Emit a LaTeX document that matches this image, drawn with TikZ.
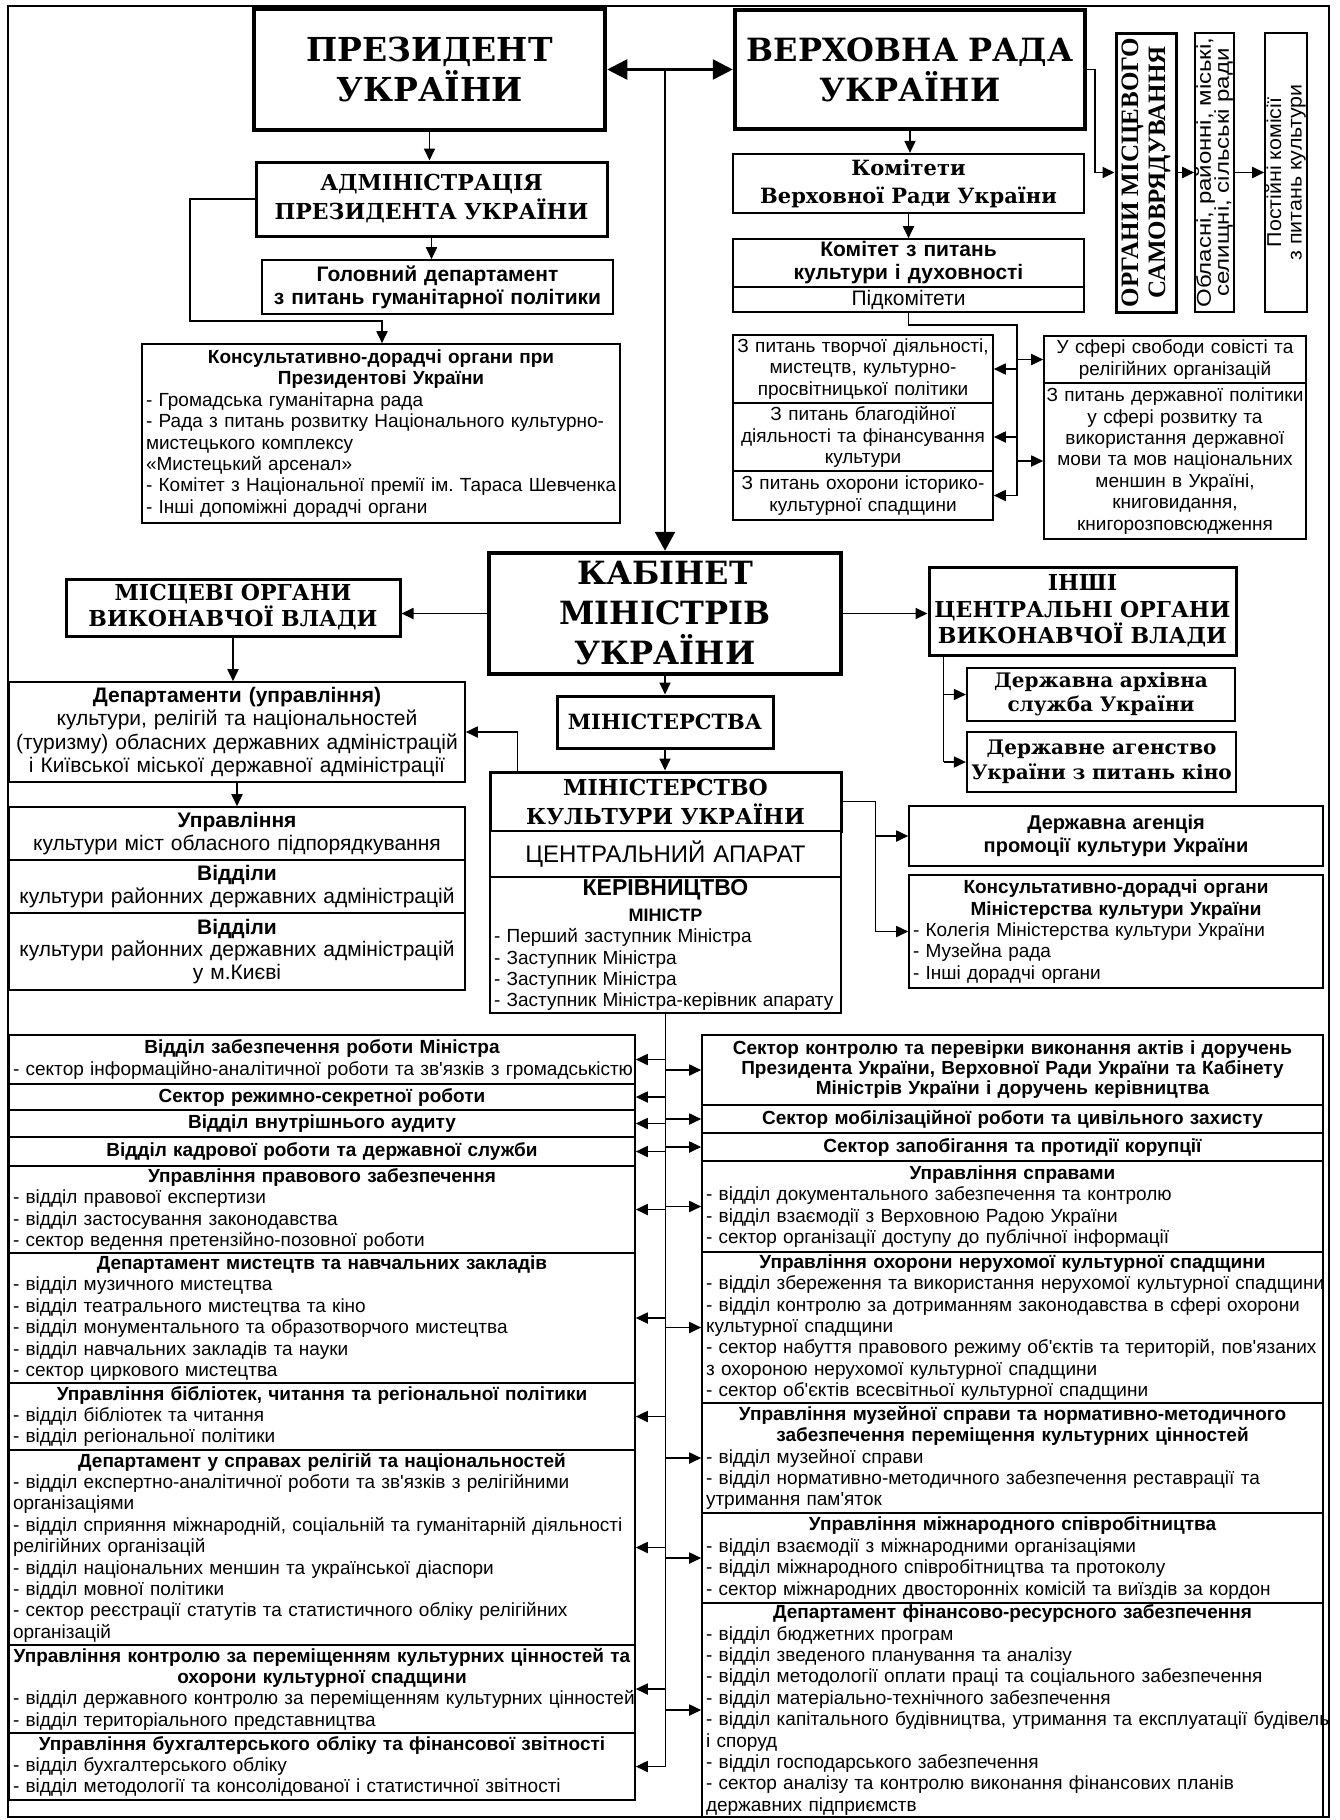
\documentclass[tikz,border=0pt]{standalone}
\usepackage{fontspec}
\setmainfont{Liberation Sans}
\newfontfamily\srf{DejaVu Serif}
\newfontfamily\lsrf{Liberation Serif}
\newfontfamily\sfwa{Liberation Sans}[FakeStretch=1.2]
\newfontfamily\sfwb{Liberation Sans}[FakeStretch=1.07]
\usetikzlibrary{arrows.meta}
\newcommand\fsz[2]{\fontsize{#1}{#2}\selectfont\lineskiplimit=-30pt\frenchspacing\relax}
\newcommand\Cx[1]{\leavevmode\hbox to\hsize{\hss#1\hss}\par}
\newcommand\Lx[1]{\leavevmode\hbox to\hsize{#1\hss}\par}
\newcommand\BX[7][]{%
  \pgfmathsetmacro\bxw{#5-#3}%
  \pgfmathsetmacro\bxh{#6-#4}%
  \pgfmathsetmacro\bxcx{(#3+#5)/2}%
  \pgfmathsetmacro\bxcy{(#4+#6)/2}%
  \pgfmathsetmacro\bxtw{#5-#3-8}%
  \node[box,minimum width=\bxw pt,minimum height=\bxh pt,text width=\bxtw pt,#1] (#2) at (\bxcx,\bxcy) {#7};}
\begin{document}
\begin{tikzpicture}[x=1pt,y=-1pt,
  box/.style={draw,line width=1.6pt,inner xsep=4pt,inner ysep=0pt,fill=white,font=\fsz{19}{21.4}},
  md/.style={line width=2.2pt},
  tk/.style={line width=3pt},
  vtk/.style={line width=4.5pt},
  line/.style={line width=1.8pt},
  arr/.style={line width=1.8pt,-{Triangle[length=12pt,width=11pt]}},
  bigarr/.style={line width=2.6pt,-{Triangle[length=19pt,width=20pt]}},
  bigarrs/.style={line width=2.6pt,{Triangle[length=20pt,width=20pt]}-{Triangle[length=20pt,width=20pt]}}]
\useasboundingbox (0,0) rectangle (1340,1820);
\draw[line width=1.4pt] (8,6) rectangle (1329,1817);

% ---------- top ----------
\BX[vtk,font=\srf\bfseries\fsz{33}{40}]{pres}{254}{9}{605}{130}{\Cx{ПРЕЗИДЕНТ}\Cx{УКРАЇНИ}}
\BX[vtk,font=\srf\bfseries\fsz{32}{40}]{vr}{735}{10}{1085}{129}{\Cx{ВЕРХОВНА РАДА}\Cx{УКРАЇНИ}}
\BX[tk,font=\srf\bfseries\fsz{22}{29}]{adm}{256}{162}{607}{236}{\Cx{АДМІНІСТРАЦІЯ}\Cx{ПРЕЗИДЕНТА УКРАЇНИ}}
\BX[font=\bfseries\fsz{21}{23}]{hdp}{262}{260}{613}{314}{\Cx{Головний департамент}\Cx{з питань гуманітарної політики}}
\BX{kons}{142}{344}{620}{523}{\Cx{\bfseries Консультативно-дорадчі органи при}\Cx{\bfseries Президентові України}\Lx{- Громадська гуманітарна рада}\Lx{- Рада з питань розвитку Національного культурно-}\Lx{мистецького комплексу}\Lx{«Мистецький арсенал»}\Lx{- Комітет з Національної премії ім. Тараса Шевченка}\Lx{- Інші допоміжні дорадчі органи}}

\BX[md,font=\srf\bfseries\fsz{21}{28}]{kom}{733}{154}{1084}{213}{\Cx{Комітети}\Cx{Верховної Ради України}}
\BX[font=\bfseries\fsz{21}{23}]{kkd}{733}{239}{1084}{287}{\Cx{Комітет з питань}\Cx{культури і духовності}}
\BX[font=\fsz{21}{23}]{pidk}{733}{287}{1084}{312}{\Cx{Підкомітети}}
\BX[font=\fsz{19}{21.2}]{s1}{733}{335}{993}{403}{\Cx{З питань творчої діяльності,}\Cx{мистецтв, культурно-}\Cx{просвітницької політики}}
\BX[font=\fsz{19}{21.2}]{s2}{733}{403}{993}{471}{\Cx{З питань благодійної}\Cx{діяльності та фінансування}\Cx{культури}}
\BX[font=\fsz{19}{21.2}]{s3}{733}{471}{993}{520}{\Cx{З питань охорони історико-}\Cx{культурної спадщини}}
\BX[font=\fsz{19}{21.2}]{s4}{1044}{336}{1306}{383}{\Cx{У сфері свободи совісті та}\Cx{релігійних організацій}}
\BX[font=\fsz{19}{21.4}]{s5}{1044}{383}{1306}{539}{\Cx{З питань державної політики}\Cx{у сфері розвитку та}\Cx{використання державної}\Cx{мови та мов національних}\Cx{меншин в Україні,}\Cx{книговидання,}\Cx{книгорозповсюдження}}

\node[box,tk,rotate=90,minimum width=279pt,minimum height=60pt,align=center,font=\lsrf\bfseries\fsz{25}{27}] (oms) at (1146,172.5) {ОРГАНИ МІСЦЕВОГО\\САМОВРЯДУВАННЯ};
\node[box,rotate=90,minimum width=279pt,minimum height=39pt,align=center,font=\sfwa\fsz{20}{18}] (obl) at (1214.5,172.5) {Обласні, районні, міські,\\селищні, сільські ради};
\node[box,rotate=90,minimum width=279pt,minimum height=42pt,align=center,font=\sfwb\fsz{20}{20.5}] (post) at (1286,172.5) {Постійні комісії\\з питань культури};

% ---------- middle ----------
\BX[vtk,font=\srf\bfseries\fsz{32}{40}]{kab}{489}{553}{841}{674}{\Cx{КАБІНЕТ}\Cx{МІНІСТРІВ}\Cx{УКРАЇНИ}}
\BX[tk,font=\srf\bfseries\fsz{22}{26}]{mis}{66}{579}{400}{636}{\Cx{МІСЦЕВІ ОРГАНИ}\Cx{ВИКОНАВЧОЇ ВЛАДИ}}
\BX[tk,font=\srf\bfseries\fsz{22}{26.5}]{inshi}{929}{567}{1236}{655}{\Cx{ІНШІ}\Cx{ЦЕНТРАЛЬНІ ОРГАНИ}\Cx{ВИКОНАВЧОЇ ВЛАДИ}}
\BX[md,font=\srf\bfseries\fsz{20}{24}]{dar}{967}{668}{1235}{721}{\Cx{Державна архівна}\Cx{служба України}}
\BX[md,font=\srf\bfseries\fsz{20}{25}]{dak}{967}{732}{1236}{792}{\Cx{Державне агенство}\Cx{України з питань кіно}}
\BX[tk,font=\srf\bfseries\fsz{21}{26}]{min}{557}{696}{773}{748}{\Cx{МІНІСТЕРСТВА}}
\BX[tk,font=\srf\bfseries\fsz{22}{29}]{mk1}{490}{772}{841}{831}{\Cx{МІНІСТЕРСТВО}\Cx{КУЛЬТУРИ УКРАЇНИ}}
\BX[md,font=\fsz{24}{26}]{mk2}{490}{831}{841}{877}{\Cx{ЦЕНТРАЛЬНИЙ АПАРАТ}}
\BX[md]{mk3}{490}{877}{841}{1013}{\Cx{\bfseries\fsz{23}{26}КЕРІВНИЦТВО}\kern4.5pt\Cx{\bfseries\fsz{18}{20}МІНІСТР}\Lx{- Перший заступник Міністра}\Lx{- Заступник Міністра}\Lx{- Заступник Міністра}\Lx{- Заступник Міністра-керівник апарату}}
\BX[font=\bfseries\fsz{20}{23}]{agn}{909}{806}{1323}{866}{\Cx{Державна агенція}\Cx{промоції культури України}}
\BX{kdm}{909}{875}{1323}{988}{\Cx{\bfseries Консультативно-дорадчі органи}\Cx{\bfseries Міністерства культури України}\Lx{- Колегія Міністерства культури України}\Lx{- Музейна рада}\Lx{- Інші дорадчі органи}}

\BX[font=\fsz{21}{23.5}]{dep}{9}{682}{465}{782}{\Cx{\bfseries Департаменти (управління)}\Cx{культури, релігій та національностей}\Cx{(туризму) обласних державних адміністрацій}\Cx{і Київської міської державної адміністрації}}
\BX[font=\fsz{21}{23.5}]{upr}{9}{807}{465}{860}{\Cx{\bfseries Управління}\Cx{культури міст обласного підпорядкування}}
\BX[font=\fsz{21}{23}]{vid1}{9}{860}{465}{913}{\Cx{\bfseries Відділи}\Cx{культури районних державних адміністрацій}}
\BX[font=\fsz{21}{22.5}]{vid2}{9}{913}{465}{990}{\Cx{\bfseries Відділи}\Cx{культури районних державних адміністрацій}\Cx{у м.Києві}}

% ---------- bottom left ----------
\BX{L1}{9}{1035}{635}{1084}{\Cx{\bfseries Відділ забезпечення роботи Міністра}\Lx{- сектор інформаційно-аналітичної роботи та зв\textquotesingle язків з громадськістю}}
\BX{L2}{9}{1084}{635}{1110}{\Cx{\bfseries Сектор режимно-секретної роботи}}
\BX{L3}{9}{1110}{635}{1137}{\Cx{\bfseries Відділ внутрішнього аудиту}}
\BX{L4}{9}{1137}{635}{1166}{\Cx{\bfseries Відділ кадрової роботи та державної служби}}
\BX{L5}{9}{1166}{635}{1253}{\Cx{\bfseries Управління правового забезпечення}\Lx{- відділ правової експертизи}\Lx{- відділ застосування законодавства}\Lx{- сектор ведення претензійно-позовної роботи}}
\BX{L6}{9}{1253}{635}{1383}{\Cx{\bfseries Департамент мистецтв та навчальних закладів}\Lx{- відділ музичного мистецтва}\Lx{- відділ театрального мистецтва та кіно}\Lx{- відділ монументального та образотворчого мистецтва}\Lx{- відділ навчальних закладів та науки}\Lx{- сектор циркового мистецтва}}
\BX{L7}{9}{1383}{635}{1450}{\Cx{\bfseries Управління бібліотек, читання та регіональної політики}\Lx{- відділ бібліотек та читання}\Lx{- відділ регіональної політики}}
\BX{L8}{9}{1450}{635}{1645}{\Cx{\bfseries Департамент у справах релігій та національностей}\Lx{- відділ експертно-аналітичної роботи та зв\textquotesingle язків з релігійними}\Lx{організаціями}\Lx{- відділ сприяння міжнародній, соціальній та гуманітарній діяльності}\Lx{релігійних організацій}\Lx{- відділ національних меншин та української діаспори}\Lx{- відділ мовної політики}\Lx{- сектор реєстрації статутів та статистичного обліку релігійних}\Lx{організацій}}
\BX{L9}{9}{1645}{635}{1733}{\Cx{\bfseries Управління контролю за переміщенням культурних цінностей та}\Cx{\bfseries охорони культурної спадщини}\Lx{- відділ державного контролю за переміщенням культурних цінностей}\Lx{- відділ територіального представництва}}
\BX{L10}{9}{1733}{635}{1800}{\Cx{\bfseries Управління бухгалтерського обліку та фінансової звітності}\Lx{- відділ бухгалтерського обліку}\Lx{- відділ методології та консолідованої і статистичної звітності}}

% ---------- bottom right ----------
\BX[font=\bfseries\fsz{19}{20}]{R1}{702}{1035}{1323}{1105}{\Cx{Сектор контролю та перевірки виконання актів і доручень}\Cx{Президента України, Верховної Ради України та Кабінету}\Cx{Міністрів України і доручень керівництва}}
\BX{R2}{702}{1105}{1323}{1133}{\Cx{\bfseries Сектор мобілізаційної роботи та цивільного захисту}}
\BX{R3}{702}{1133}{1323}{1161}{\Cx{\bfseries Сектор запобігання та протидії корупції}}
\BX{R4}{702}{1161}{1323}{1252}{\Cx{\bfseries Управління справами}\Lx{- відділ документального забезпечення та контролю}\Lx{- відділ взаємодії з Верховною Радою України}\Lx{- сектор організації доступу до публічної інформації}}
\BX{R5}{702}{1252}{1323}{1403}{\Cx{\bfseries Управління охорони нерухомої культурної спадщини}\Lx{- відділ збереження та використання нерухомої культурної спадщини}\Lx{- відділ контролю за дотриманням законодавства в сфері охорони}\Lx{культурної спадщини}\Lx{- сектор набуття правового режиму об\textquotesingle єктів та територій, пов\textquotesingle язаних}\Lx{з охороною нерухомої культурної спадщини}\Lx{- сектор об\textquotesingle єктів всесвітньої культурної спадщини}}
\BX{R6}{702}{1403}{1323}{1513}{\Cx{\bfseries Управління музейної справи та нормативно-методичного}\Cx{\bfseries забезпечення переміщення культурних цінностей}\Lx{- відділ музейної справи}\Lx{- відділ нормативно-методичного забезпечення реставрації та}\Lx{утримання пам\textquotesingle яток}}
\BX{R7}{702}{1513}{1323}{1603}{\Cx{\bfseries Управління міжнародного співробітництва}\Lx{- відділ взаємодії з міжнародними організаціями}\Lx{- відділ міжнародного співробітництва та протоколу}\Lx{- сектор міжнародних двосторонніх комісій та виїздів за кордон}}
\BX{R8}{702}{1603}{1323}{1817}{\Cx{\bfseries Департамент фінансово-ресурсного забезпечення}\Lx{- відділ бюджетних програм}\Lx{- відділ зведеного планування та аналізу}\Lx{- відділ методології оплати праці та соціального забезпечення}\Lx{- відділ матеріально-технічного забезпечення}\Lx{- відділ капітального будівництва, утримання та експлуатації будівель}\Lx{і споруд}\Lx{- відділ господарського забезпечення}\Lx{- сектор аналізу та контролю виконання фінансових планів}\Lx{державних підприємств}}

% ---------- connectors ----------
\coordinate (j) at (665,69.5);
\draw[bigarrs] (pres.east) -- (vr.west);
\draw[bigarr] (j) -- (j |- kab.north);
\draw[arr] (pres.south) -- (pres.south |- adm.north);
\draw[arr] (adm.south) -- (adm.south |- hdp.north);
\coordinate (ak1) at (190,321);
\coordinate (ak2) at (382,321);
\draw[arr] (adm.west) -| (ak1) -- (ak2) -- (ak2 |- kons.north);
\draw[arr] (vr.south) -- (vr.south |- kom.north);
\draw[arr] (kom.south) -- (kom.south |- kkd.north);
\draw[arr] (vr.east) -- ++(8,0) |- (oms.north);
\draw[arr] (oms.south) -- (obl.north);
\draw[arr] (obl.south) -- (post.north);
\coordinate (sb) at (1017,325);
\draw[line] (pidk.south) |- (sb) -- (sb |- s3.east);
\foreach \n in {s1,s2,s3} \draw[arr] (sb |- \n.east) -- (\n.east);
\foreach \n in {s4,s5} \draw[arr] (sb |- \n.west) -- (\n.west);

\draw[arr] (kab.west) -- (kab.west -| mis.east);
\draw[arr] (kab.east) -- (kab.east -| inshi.west);
\draw[arr] (kab.south) -- (kab.south |- min.north);
\draw[arr] (min.south) -- (min.south |- mk1.north);
\draw[arr] (mis.south) -- (mis.south |- dep.north);
\draw[arr] (dep.south) -- (dep.south |- upr.north);
\coordinate (ib) at ([xshift=16pt]inshi.south west);
\draw[line] (ib) -- (ib |- dak.west);
\draw[arr] (ib |- dar.west) -- (dar.west);
\draw[arr] (ib |- dak.west) -- (dak.west);
\coordinate (md) at ([xshift=29pt]mk1.north west);
\draw[arr] (md) |- (dep.east);
\coordinate (mr) at ([xshift=33pt]mk1.east);
\draw[line] (mk1.east) -- (mr) -- (mr |- kdm.west);
\draw[arr] (mr |- agn.west) -- (agn.west);
\draw[arr] (mr |- kdm.west) -- (kdm.west);

\coordinate (cb) at (mk3.south);
\draw[line] (cb) -- (cb |- L10.east);
\foreach \n in {L1,L2,L3,L4,L5,L6,L7,L8,L9,L10} \draw[arr] (cb |- \n.east) -- (\n.east);
\foreach \n in {R1,R2,R3,R4,R5,R6,R7,R8} \draw[arr] (cb |- \n.west) -- (\n.west);
\end{tikzpicture}
\end{document}
